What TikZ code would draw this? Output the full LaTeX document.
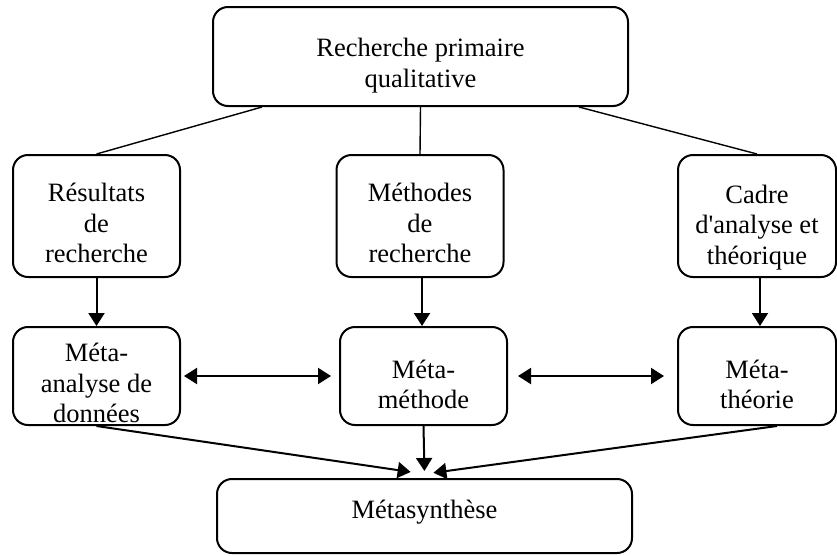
\documentclass[tikz,border=0pt]{standalone}
\usepackage{fontspec}
\setmainfont{Liberation Serif}
\usetikzlibrary{arrows.meta,calc}

\newcommand{\haut}[1]{\rule{0pt}{#1pt}}
\newcommand{\bas}[1]{\rule[-#1pt]{0pt}{#1pt}}

\begin{document}
\begin{tikzpicture}[x=1pt, y=-1pt,
  boite/.style={draw, line width=2pt, rounded corners=15pt, inner sep=0pt,
    align=center, font=\fontsize{26.5}{30.5}\selectfont},
  fleche/.style={line width=2pt, -{Triangle[length=13pt,width=16pt]}},
  double/.style={line width=2pt, {Triangle[length=13pt,width=16pt]}-{Triangle[length=13pt,width=16pt]}},
  lien/.style={line width=1.4pt}]

\useasboundingbox (0,0) rectangle (837,555);

\def\haute{122}
\def\basse{98}

\node [boite, minimum width=415pt, minimum height=99pt] (rp) at (420.5,56.5)
  {\haut{37}Recherche primaire\\qualitative};

\node [boite, minimum width=167pt, minimum height=\haute pt] (res) at (96.5,216)
  {\haut{33}Résultats\\de\\recherche};
\node [boite, minimum width=167pt, minimum height=\haute pt] (meth) at (420,216)
  {\haut{33}Méthodes\\de\\recherche};
\node [boite, minimum width=158pt, minimum height=\haute pt] (cadre) at (757,216)
  {\haut{41}Cadre\\d\textquotesingle analyse et\\théorique};

\node [boite, minimum width=167pt, minimum height=\basse pt] (metaana) at (96.5,376)
  {\haut{33}Méta-\\analyse de\\données};
\node [boite, minimum width=167pt, minimum height=\basse pt] (metameth) at (423.5,376)
  {\haut{35}Méta-\\méthode};
\node [boite, minimum width=158pt, minimum height=\basse pt] (metatheo) at (757,376)
  {\haut{35}Méta-\\théorie};

\node [boite, minimum width=415pt, minimum height=74pt] (synth) at (424.5,516)
  {Métasynthèse\bas{14}};

\coordinate (conv) at ([yshift=4pt]synth.north);

\draw [lien] ($(rp.south west)!0.12!(rp.south east)$) -- (res.north);
\draw [lien] (rp.south) -- (meth.north);
\draw [lien] ($(rp.south west)!0.88!(rp.south east)$) -- (cadre.north);

\draw [fleche] (res.south) -- (metaana.north);
\draw [fleche] ([xshift=2pt]meth.south) -- ([xshift=2pt]meth.south |- metameth.north);
\draw [fleche] ([xshift=3pt]cadre.south) -- ([xshift=3pt]metatheo.north);

\draw [double, shorten <=3pt, shorten >=8pt] (metaana.east) -- (metameth.west);
\draw [double, shorten <=10pt, shorten >=13pt] (metameth.east) -- (metatheo.west);

\draw [fleche, shorten >=14pt] (metaana.south) -- (conv);
\draw [fleche, shorten >=3pt] (metameth.south) -- (conv);
\draw [fleche, shorten >=9pt] ([xshift=20pt]metatheo.south) -- (conv);

\end{tikzpicture}
\end{document}
